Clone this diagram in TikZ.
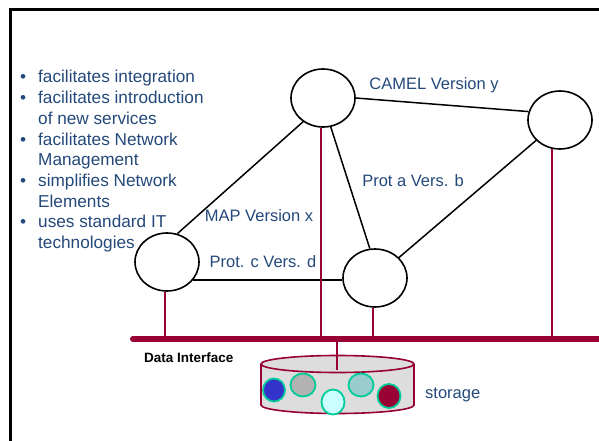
\documentclass[tikz,border=0pt]{standalone}
\usepackage{fontspec}
\setmainfont{Liberation Sans}
\usetikzlibrary{shapes.geometric,positioning}
\definecolor{txtblue}{RGB}{36,73,122}
\definecolor{bordeaux}{RGB}{153,0,51}
\definecolor{tealrim}{RGB}{0,204,153}
\definecolor{cylgray}{RGB}{221,221,221}
\definecolor{diskblue}{RGB}{51,51,204}
\definecolor{diskgray}{RGB}{178,178,178}
\definecolor{diskcyan}{RGB}{204,255,255}
\definecolor{diskteal}{RGB}{153,204,204}
\definecolor{diskred}{RGB}{153,0,51}

\begin{document}
\begin{tikzpicture}[x=1pt, y=-1pt,
    ne/.style={ellipse, draw, line width=1.6pt, minimum width=64pt, minimum height=58pt, inner sep=0pt},
    link/.style={line width=1.5pt},
    drop/.style={bordeaux, line width=1.8pt},
    bus/.style={bordeaux, line width=6pt, line cap=round},
    disk/.style={tealrim, line width=1.8pt},
    lbl/.style={text=txtblue, font=\fontsize{16.5}{20.7}\selectfont, inner sep=0pt}]
    \useasboundingbox (0,0) rectangle (599,441);
    \fill[white] (0,0) rectangle (599,441);

    % cadre
    \draw[line width=3pt] (10,441) -- (10,10) -- (599,10);

    % elements de reseau
    \node[ne] (nA) at (323,98) {};
    \node[ne] (nB) at (560,120) {};
    \node[ne] (nC) at (375,278) {};
    \node[ne] (nD) at (167,262) {};

    % protocoles
    \draw[link] (nD.70) -- (nA.230);
    \draw[link] (nA.east) -- (nB.165);
    \draw[link] (nA.-75) -- (nC.100);
    \draw[link] (nC) -- (nB);
    \draw[link] (nD.-35) -- (nD.-35 -| nC.west);

    \node[lbl] (camel) at (434,85) {CAMEL Version y};
    \node[lbl] (prota) at (413,181) {Prot a Vers. b};
    \node[lbl] (mapx) at (259,216) {MAP Version x};
    \node[lbl] (protc) at (263,262) {Prot. c Vers. d};

    % bus de donnees
    \coordinate (busL) at (133,339);
    \coordinate (busR) at (599,339);
    \draw[bus] (busL) -- (busR);
    \draw[drop] (nD.-94) -- (nD.-94 |- busL);
    \draw[drop] (nA.-94) -- (nA.-94 |- busL);
    \draw[drop] (nC.-94) -- (nC.-94 |- busL);
    \draw[drop] (nB.-105) -- (nB.-105 |- busL);
    \node[font=\bfseries\fontsize{13.5}{16}\selectfont, anchor=west, inner sep=0pt] (dataif) at (144,358) {Data Interface};

    % stockage
    \draw[bordeaux, line width=1.6pt, fill=cylgray] (337.5,405) ellipse (76.5 and 8.5);
    \fill[cylgray] (261,364) rectangle (414,405);
    \draw[bordeaux, line width=1.6pt] (261,364) -- (261,405) (414,364) -- (414,405);
    \draw[bordeaux, line width=1.6pt, fill=cylgray] (337.5,364) ellipse (76.5 and 8.5);
    \coordinate (stor) at (337,370);
    \draw[drop] (stor |- busL) -- (stor);
    \foreach \cx/\cy/\rx/\ry/\col in {274/390/11/11.5/diskblue, 303/385/12.5/11.5/diskgray,
        333/402/11.5/12.5/diskcyan, 361/385/12.5/11.5/diskteal, 389/396/11.5/12/diskred} {
        \draw[disk, fill=\col] (\cx,\cy) ellipse [x radius=\rx, y radius=\ry];
    }
    \node[lbl, anchor=west] (storlbl) at (425,395) {storage};

    % avantages
    \node[lbl, font=\fontsize{17.2}{20.7}\selectfont, anchor=base west] (features) at (20,83) {%
        \begin{tabular}[t]{@{}p{18pt}@{}l@{}}
        \textbullet & facilitates integration\\
        \textbullet & facilitates introduction\\
                    & of new services\\
        \textbullet & facilitates Network\\
                    & Management\\
        \textbullet & simplifies Network\\
                    & Elements\\
        \textbullet & uses standard IT\\
                    & technologies
        \end{tabular}};
\end{tikzpicture}
\end{document}
